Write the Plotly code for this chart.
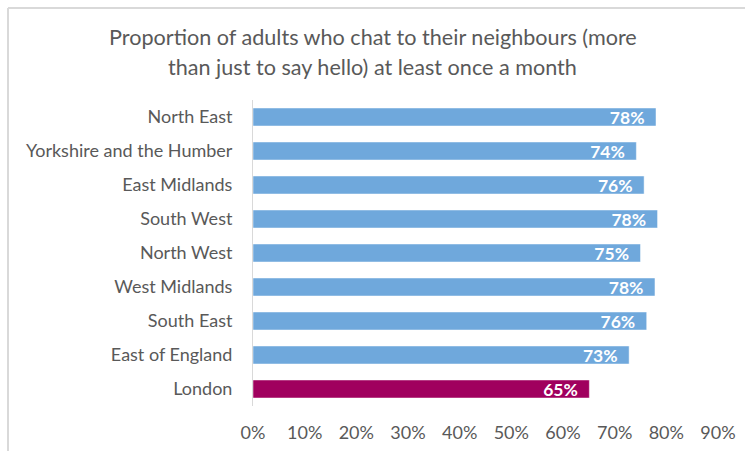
import plotly.graph_objects as go

# Regions listed top to bottom
regions = [
    "North East",
    "Yorkshire and the Humber",
    "East Midlands",
    "South West",
    "North West",
    "West Midlands",
    "South East",
    "East of England",
    "London",
]
share_chatting = [0.780, 0.742, 0.757, 0.783, 0.750, 0.778, 0.762, 0.728, 0.651]
x_ticks = [0, 0.1, 0.2, 0.3, 0.4, 0.5, 0.6, 0.7, 0.8, 0.9]
x_tick_labels = ["0%", "10%", "20%", "30%", "40%", "50%", "60%", "70%", "80%", "90%"]
title_lines = [
    "Proportion of adults who chat to their neighbours (more",
    "than just to say hello) at least once a month",
]

BLUE = "#6FA8DC"
HIGHLIGHT = "#A0005E"
GREY_TEXT = "#595959"
FONT = "Lato, Carlito, Calibri, sans-serif"

W, H = 745, 451
M_L, M_R, M_T, M_B = 253, 27, 100, 45
PLOT_W = W - M_L - M_R
PLOT_H = H - M_T - M_B

colors = [HIGHLIGHT if r == "London" else BLUE for r in regions]

fig = go.Figure(
    go.Bar(
        x=share_chatting,
        y=regions,
        orientation="h",
        marker=dict(color=colors, line=dict(color="rgba(255,255,255,0.6)", width=0.8)),
        text=share_chatting,
        texttemplate="%{text:.0%}\u00a0\u00a0",
        textposition="inside",
        insidetextanchor="end",
        constraintext="none",
        textangle=0,
        textfont=dict(family=FONT, size=17.5, color="white", weight="bold"),
        cliponaxis=False,
        hoverinfo="skip",
    )
)

fig.update_layout(
    width=W,
    height=H,
    margin=dict(l=M_L, r=M_R, t=M_T, b=M_B, autoexpand=False),
    paper_bgcolor="white",
    plot_bgcolor="white",
    showlegend=False,
    bargap=0.47,
    font=dict(family=FONT, color=GREY_TEXT, size=18),
)

fig.update_xaxes(
    range=[0, 0.9],
    tickvals=x_ticks,
    ticktext=x_tick_labels,
    showgrid=False,
    zeroline=False,
    showline=False,
    ticks="",
    ticklabelstandoff=14,
    tickfont=dict(family=FONT, size=18, color=GREY_TEXT),
    automargin=False,
    fixedrange=True,
)

fig.update_yaxes(
    categoryorder="array",
    categoryarray=regions[::-1],
    autorange=False,
    range=[-0.5, len(regions) - 0.5],
    showgrid=False,
    showline=True,
    linecolor="#D9D9D9",
    linewidth=1,
    ticks="",
    ticklabelstandoff=16,
    tickfont=dict(family=FONT, size=18, color=GREY_TEXT),
    automargin=False,
    fixedrange=True,
)


def px_x(x):
    return (x - M_L) / PLOT_W


def px_y(y):
    return (H - M_B - y) / PLOT_H


# Two-line chart title, centred on the figure
for line, y_px in zip(title_lines, [37, 67]):
    fig.add_annotation(
        text=line,
        xref="paper", yref="paper",
        x=px_x(W / 2), y=px_y(y_px),
        xanchor="center", yanchor="middle",
        showarrow=False,
        font=dict(family=FONT, size=21.6, color=GREY_TEXT),
    )

# Light chart-area border along the top and left edges
fig.add_shape(type="line", xref="paper", yref="paper",
              x0=px_x(8), x1=px_x(W), y0=px_y(8), y1=px_y(8),
              line=dict(color="#D9D9D9", width=2))
fig.add_shape(type="line", xref="paper", yref="paper",
              x0=px_x(8), x1=px_x(8), y0=px_y(8), y1=px_y(H),
              line=dict(color="#D9D9D9", width=2))

fig.write_html("out.html")
